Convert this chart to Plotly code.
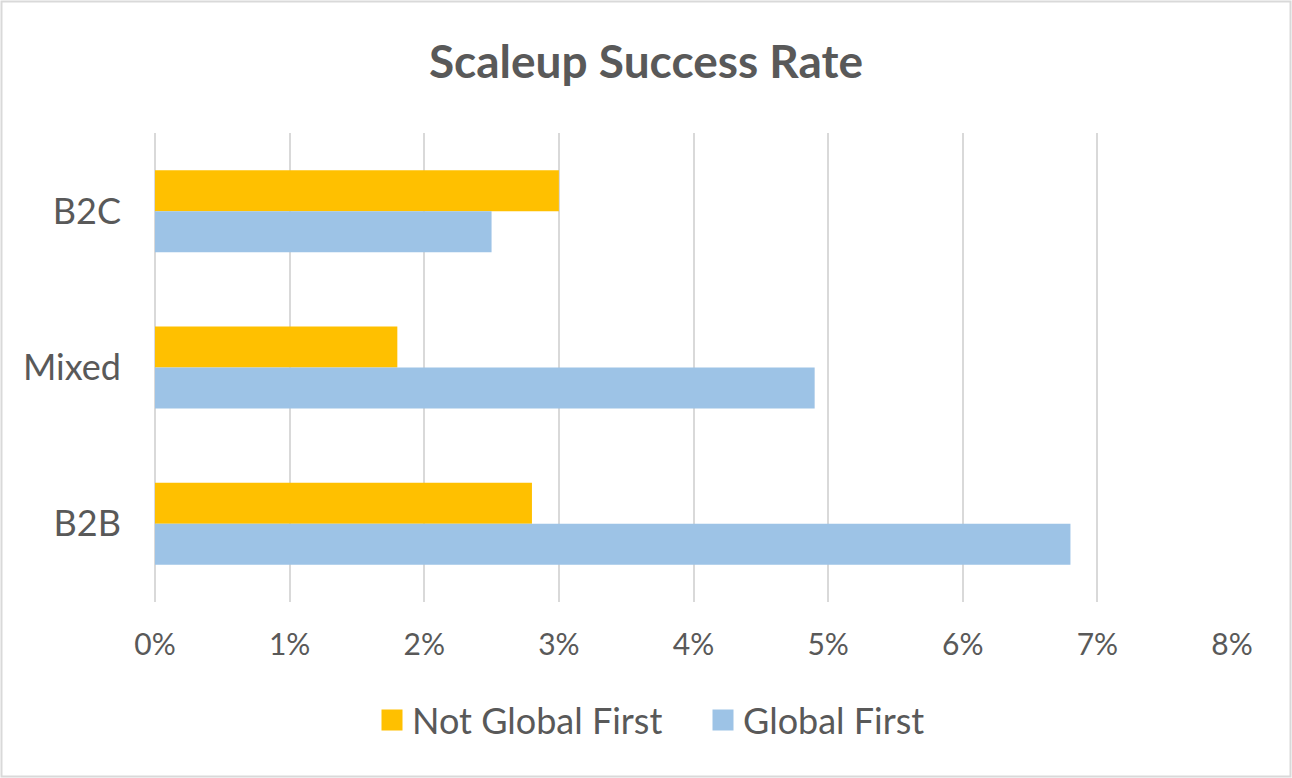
import plotly.graph_objects as go

categories = ["B2C", "Mixed", "B2B"]
not_global_first = [0.030, 0.018, 0.028]
global_first = [0.025, 0.049, 0.068]
x_ticks = [0, 0.01, 0.02, 0.03, 0.04, 0.05, 0.06, 0.07, 0.08]
x_tick_labels = ["0%", "1%", "2%", "3%", "4%", "5%", "6%", "7%", "8%"]
series_names = ["Not Global First", "Global First"]
series_colors = ["#FFC000", "#9DC3E6"]

W, H = 1292, 778
L, R, T, B = 155, 60, 133, 176
pw, ph = W - L - R, H - T - B

font = "Lato, 'Open Sans', sans-serif"
txt = "#595959"

fig = go.Figure()
for name, vals, col in zip(series_names, [not_global_first, global_first], series_colors):
    fig.add_trace(go.Bar(y=categories, x=vals, name=name, orientation="h",
                         marker=dict(color=col, line=dict(width=0)), showlegend=False))
# legend entries (square markers)
for name, col in zip(series_names, series_colors):
    fig.add_trace(go.Scatter(x=[None], y=[None], mode="markers", name=name,
                             marker=dict(symbol="square", size=16, color=col,
                                         line=dict(color=col, width=5)),
                             showlegend=True))

fig.update_layout(
    width=W, height=H,
    margin=dict(l=L, r=R, t=T, b=B),
    paper_bgcolor="white", plot_bgcolor="white",
    font=dict(family=font, color=txt),
    title=dict(text="<b>Scaleup Success Rate</b>", x=0.5, xanchor="center",
               y=1 - 62 / H, yanchor="middle", font=dict(size=46, color=txt, family=font)),
    barmode="group", bargap=0.475, bargroupgap=0,
    xaxis=dict(range=[0, 0.08], tickvals=x_ticks, ticktext=x_tick_labels,
               showgrid=True, gridcolor="#D9D9D9", gridwidth=1.5,
               zeroline=True, zerolinecolor="#D9D9D9", zerolinewidth=1.5,
               showline=False, ticks="", tickfont=dict(size=30, color=txt),
               ticklabelstandoff=22, fixedrange=True),
    yaxis=dict(autorange="reversed", showgrid=False, zeroline=False, showline=False,
               ticks="", tickfont=dict(size=36, color=txt), ticklabelstandoff=33),
    legend=dict(orientation="h", x=(372 - L) / pw, xanchor="left", y=-(720 - (T + ph)) / ph,
                yanchor="middle", font=dict(size=36, color=txt), itemwidth=30,
                entrywidth=286, bgcolor="rgba(0,0,0,0)"),
    showlegend=True,
    shapes=[dict(type="rect", xref="paper", yref="paper",
                 x0=-(L - 1.5) / pw, x1=1 + (R - 1.5) / pw,
                 y0=-(B - 1.5) / ph, y1=1 + (T - 1.5) / ph,
                 line=dict(color="#D9D9D9", width=2), layer="below")],
)

fig.write_html("out.html", config={"displayModeBar": False},
               post_script="document.body.style.margin='0';")
